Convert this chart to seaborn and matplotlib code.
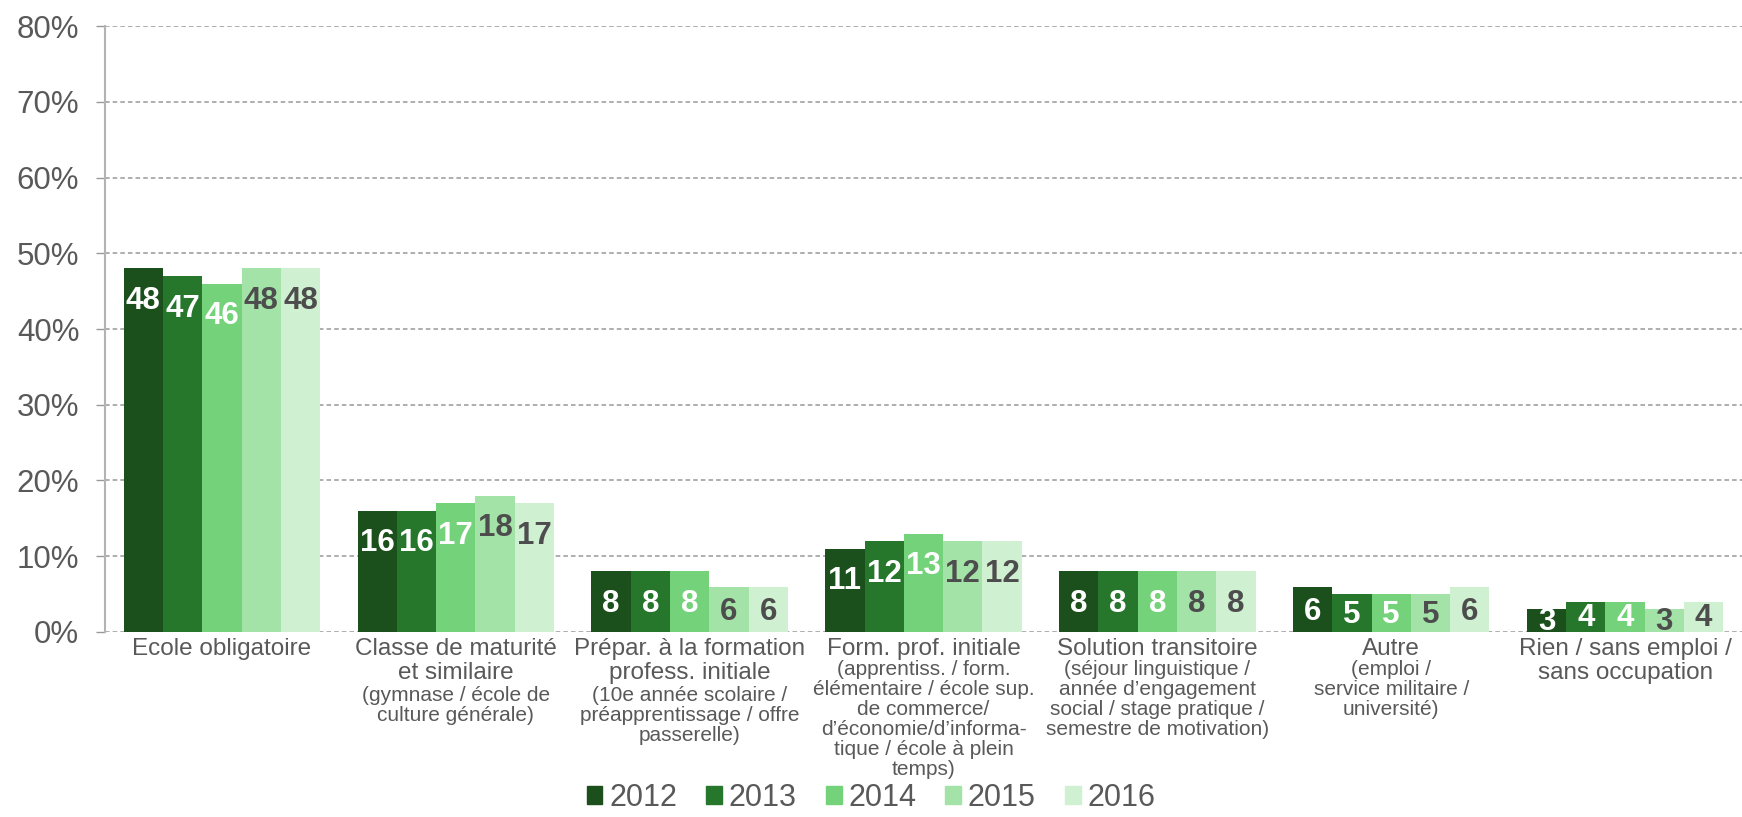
import pandas as pd
import seaborn as sns
import matplotlib.pyplot as plt

# Chart data (percent)
categories = ['Ecole obligatoire', 'Classe de maturité', 'Prépar. formation', 'Form. prof. initiale',
              'Solution transitoire', 'Autre', 'Rien']
years = ['2012', '2013', '2014', '2015', '2016']
v2012 = [48, 16, 8, 11, 8, 6, 3]
v2013 = [47, 16, 8, 12, 8, 5, 4]
v2014 = [46, 17, 8, 13, 8, 5, 4]
v2015 = [48, 18, 6, 12, 8, 5, 3]
v2016 = [48, 17, 6, 12, 8, 6, 4]

main_labels = ['Ecole obligatoire',
               'Classe de maturité\net similaire',
               'Prépar. à la formation\nprofess. initiale',
               'Form. prof. initiale',
               'Solution transitoire',
               'Autre',
               'Rien / sans emploi /\nsans occupation']
sub_labels = ['',
              '(gymnase / école de\nculture générale)',
              '(10e année scolaire /\npréapprentissage / offre\npasserelle)',
              '(apprentiss. / form.\nélémentaire / école sup.\nde commerce/\nd’économie/d’informa-\ntique / école à plein\ntemps)',
              '(séjour linguistique /\nannée d’engagement\nsocial / stage pratique /\nsemestre de motivation)',
              '(emploi /\nservice militaire /\nuniversité)',
              '']
y_ticks = [0, 10, 20, 30, 40, 50, 60, 70, 80]

colors = ['#1b4f1b', '#26762b', '#74d37a', '#a3e3a8', '#cff0d1']
label_colors = ['white', 'white', 'white', '#4d4d4d', '#4d4d4d']

# Long-form table for seaborn
series = [v2012, v2013, v2014, v2015, v2016]
rows = []
for yr, vals in zip(years, series):
    for cat, v in zip(categories, vals):
        rows.append({'category': cat, 'year': yr, 'value': v})
df = pd.DataFrame(rows)

sns.set_style('white')
plt.rcParams['font.family'] = ['Liberation Sans', 'DejaVu Sans']
text_gray = '#595959'

fig = plt.figure(figsize=(17.42, 8.17), dpi=100)
ax = fig.add_axes([0.0603, 0.2265, 0.9397, 0.7415])

sns.barplot(data=df, x='category', y='value', hue='year', order=categories, hue_order=years,
            palette=colors, saturation=1, width=0.84, errorbar=None, linewidth=0, ax=ax)

ax.set_ylim(0, 80)
ax.set_xlim(-0.5, len(categories) - 0.5)
ax.set_yticks(y_ticks)
ax.set_yticklabels([f'{t}%' for t in y_ticks], fontsize=22.5, color=text_gray)
ax.yaxis.grid(True, linestyle=(0, (3, 2)), color='#999999', linewidth=1.1)
ax.set_axisbelow(True)
ax.set_xlabel('')
ax.set_ylabel('')

for side in ['top', 'right', 'bottom']:
    ax.spines[side].set_visible(False)
ax.spines['left'].set_color('#b3b3b3')
ax.spines['left'].set_linewidth(1.5)
ax.tick_params(axis='y', left=True, length=6.5, width=1, color='#999999', pad=12)
ax.tick_params(axis='x', bottom=False, pad=1)

ax.set_xticks(range(len(categories)))
ax.set_xticklabels(main_labels, fontsize=17.5, color=text_gray, linespacing=1.08)

# sub labels in smaller type below the main label
for i, sub in enumerate(sub_labels):
    if not sub:
        continue
    n_main = main_labels[i].count('\n') + 1
    ax.annotate(sub, xy=(i, 0), xycoords=('data', 'axes fraction'),
                xytext=(0, -1.5 - n_main * 18.7), textcoords='offset points',
                ha='center', va='top', fontsize=15, color=text_gray, linespacing=1.06,
                annotation_clip=False)

# value labels inside the bars
for k, cont in enumerate(ax.containers):
    for bar in cont:
        v = bar.get_height()
        xc = bar.get_x() + bar.get_width() / 2
        yc = max(v - 4.3, v * 0.45)
        ax.text(xc, yc, f'{v:.0f}', ha='center', va='center', fontsize=22.5,
                fontweight='bold', color=label_colors[k], clip_on=False)

ax.legend_.remove()
handles = [plt.Rectangle((0, 0), 1, 1, color=c) for c in colors]
fig.legend(handles, years, loc='center', bbox_to_anchor=(0.5, 0.023), ncol=5,
           frameon=False, fontsize=22, handlelength=0.52, handleheight=0.52,
           handletextpad=0.22, columnspacing=0.95, borderpad=0, labelcolor=text_gray)

fig.savefig('out.png', dpi=100)
